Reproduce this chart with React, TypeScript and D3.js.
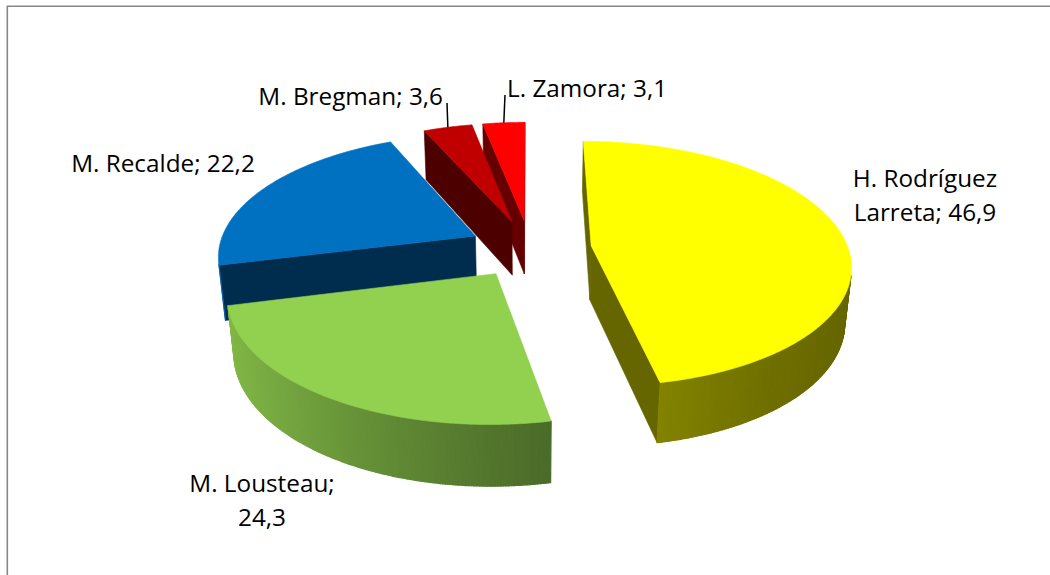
import React from 'react';
import * as d3 from 'd3';

// ---- data ----
const candidates = ['H. Rodríguez Larreta', 'M. Lousteau', 'M. Recalde', 'M. Bregman', 'L. Zamora'];
const values = [46.9, 24.3, 22.2, 3.6, 3.1];
const topColors = ['#FFFF00', '#92D050', '#0070C0', '#C00000', '#FF0000'];
const wrapAfterWords = [2, 2, 0, 0, 0];

// ---- layout / styling (not data) ----
const W = 1050;
const H = 575;
const ALPHA = (30 * Math.PI) / 180;
const DIST = 6;
const FOCAL = 1510;
const DEPTH = 0.245;
const EXPLODE = 0.24;
const CX = 530;
const CY = 303;
const FONT = '"Open Sans", sans-serif';
const FONT_SIZE = 24.3;
const LINE_H = 33.5;

// text anchors for each label: x, first baseline y, text-anchor; leader end point if any
const labelLayout = [
  { x: 925, y: 187, anchor: 'middle', leader: null },
  { x: 262, y: 492, anchor: 'middle', leader: null },
  { x: 163, y: 172, anchor: 'middle', leader: null },
  { x: 443, y: 105, anchor: 'end', leader: [447, 103] },
  { x: 507, y: 97, anchor: 'start', leader: [505, 95] },
];

type V3 = [number, number, number];

const sinA = Math.sin(ALPHA);
const cosA = Math.cos(ALPHA);
const cam: V3 = [0, DIST * sinA, -DIST * cosA];

function project(p: V3): [number, number] {
  const [x, y, z] = p;
  const dep = DIST - y * sinA + z * cosA;
  const up = (FOCAL * (y * cosA + z * sinA)) / dep;
  return [CX + (FOCAL * x) / dep, CY - up];
}
function depthOf(p: V3) {
  return DIST - p[1] * sinA + p[2] * cosA;
}
function visible(n: V3, p: V3) {
  return n[0] * (cam[0] - p[0]) + n[1] * (cam[1] - p[1]) + n[2] * (cam[2] - p[2]) > 0;
}
function shade(color: string, k: number) {
  const c = d3.rgb(color);
  return d3.rgb(c.r * k, c.g * k, c.b * k).formatHex();
}
function sideK(theta: number) {
  const t = (1 + Math.cos(theta - (260 * Math.PI) / 180)) / 2;
  return 0.4 + 0.48 * t * t;
}
const line2d = d3.line<[number, number]>().x((d) => d[0]).y((d) => d[1]);
function poly(pts: V3[]) {
  return line2d(pts.map(project)) + 'Z';
}

function fmt(v: number) {
  return String(v).replace('.', ',');
}

export default function App() {
  const arcs = d3
    .pie<number>()
    .sort(null)
    .value((d) => d)
    .startAngle(0)
    .endAngle(2 * Math.PI)(values);

  const slices = arcs.map((a, i) => {
    const a0 = a.startAngle;
    const a1 = a.endAngle;
    const m = (a0 + a1) / 2;
    const ox = EXPLODE * Math.sin(m);
    const oz = EXPLODE * Math.cos(m);
    const pt = (th: number, r: number, y: number): V3 => [ox + r * Math.sin(th), y, oz + r * Math.cos(th)];
    const faces: { d: string; fill: string; sw: number }[] = [];
    const top = topColors[i];
    // radial faces
    const rad = (th: number, sign: number) => {
      const n: V3 = [sign * Math.cos(th), 0, -sign * Math.sin(th)];
      const c = pt(th, 0.5, DEPTH / 2);
      if (visible(n, c)) {
        faces.push({
          d: poly([pt(th, 0, 0), pt(th, 0, DEPTH), pt(th, 1, DEPTH), pt(th, 1, 0)]),
          fill: shade(top, 0.4),
          sw: 0.6,
        });
      }
    };
    rad(a0, -1);
    rad(a1, 1);
    // outer side
    const N = Math.max(2, Math.ceil((a1 - a0) / ((0.5 * Math.PI) / 180)));
    const step = (a1 - a0) / N;
    for (let s = 0; s < N; s++) {
      const ta = a0 + s * step;
      const tb = ta + step;
      const tc = (ta + tb) / 2;
      const n: V3 = [Math.sin(tc), 0, Math.cos(tc)];
      if (visible(n, pt(tc, 1, DEPTH / 2))) {
        faces.push({
          d: poly([pt(ta, 1, 0), pt(tb, 1, 0), pt(tb, 1, DEPTH), pt(ta, 1, DEPTH)]),
          fill: shade(top, sideK(tc)),
          sw: 1.2,
        });
      }
    }
    // top face
    const topPts: V3[] = [pt(0, 0, DEPTH)];
    const M = Math.ceil((a1 - a0) / ((0.5 * Math.PI) / 180));
    for (let s = 0; s <= M; s++) topPts.push(pt(a0 + ((a1 - a0) * s) / M, 1, DEPTH));
    faces.push({ d: poly(topPts), fill: top, sw: 0.6 });
    const arcMid = project(pt(m, 1, DEPTH));
    return { i, faces, depth: depthOf(pt(0, 0, DEPTH / 2)), arcMid };
  });

  const order = [...slices].sort((a, b) => b.depth - a.depth);

  return (
    <svg
      width={W}
      height={H}
      style={{ position: 'absolute', left: 0, top: 0, background: '#fff' }}
    >
      <path d={`M7.3,${H} V6.3 H${W}`} fill="none" stroke="#878787" strokeWidth={1.6} />
      {order.map((s) => (
        <g key={s.i}>
          {s.faces.map((f, j) => (
            <path key={j} d={f.d} fill={f.fill} stroke={f.fill} strokeWidth={f.sw} strokeLinejoin="round" />
          ))}
        </g>
      ))}
      {slices.map((s) => {
        const L = labelLayout[s.i];
        if (!L.leader) return null;
        return (
          <line
            key={'l' + s.i}
            x1={s.arcMid[0]}
            y1={s.arcMid[1]}
            x2={L.leader[0]}
            y2={L.leader[1]}
            stroke="#000"
            strokeWidth={1.5}
          />
        );
      })}
      {candidates.map((c, i) => {
        const L = labelLayout[i];
        const words = `${c}; ${fmt(values[i])}`.split(' ');
        const k = wrapAfterWords[i];
        const lines = k > 0 ? [words.slice(0, k).join(' '), words.slice(k).join(' ')] : [words.join(' ')];
        return (
          <text
            key={'t' + i}
            x={L.x}
            y={L.y}
            textAnchor={L.anchor as any}
            fontFamily={FONT}
            fontSize={FONT_SIZE}
            fill="#000"
          >
            {lines.map((ln, j) => (
              <tspan key={j} x={L.x} dy={j === 0 ? 0 : LINE_H}>
                {ln}
              </tspan>
            ))}
          </text>
        );
      })}
    </svg>
  );
}
